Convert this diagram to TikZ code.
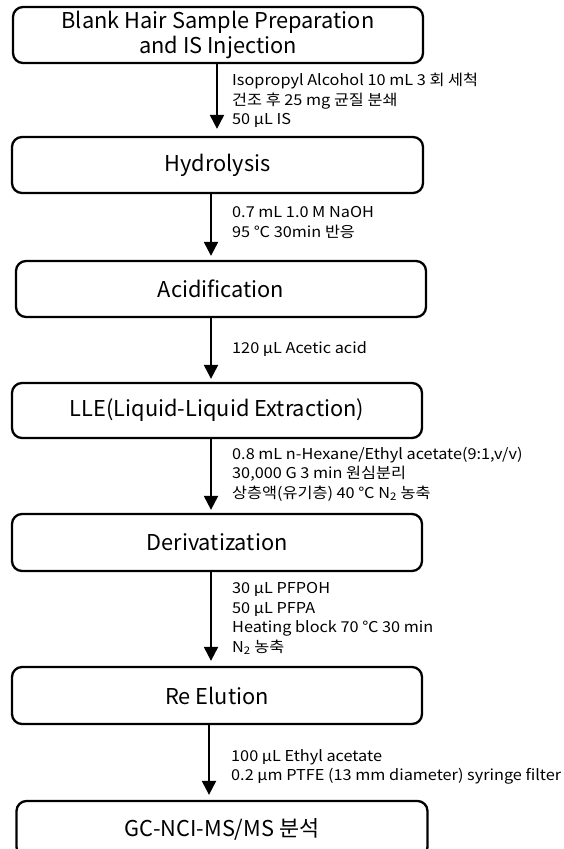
\documentclass[tikz,border=0pt]{standalone}
\usepackage{fontspec}
\setmainfont{Noto Sans CJK KR}
\newfontfamily\notefont{Noto Sans CJK KR}[FakeStretch=1.085]
\usetikzlibrary{arrows.meta}
\begin{document}
\begin{tikzpicture}[x=1pt,y=-1pt,
  stepbox/.style={draw, line width=2.3pt, rounded corners=10pt, minimum height=56pt,
    minimum width=410pt, inner sep=0pt, align=center, font=\fontsize{21.8}{25}\selectfont},
  note/.style={anchor=west, align=left, inner sep=0pt, font=\notefont\fontsize{15}{19.5}\selectfont},
  arr/.style={line width=2.3pt, -{Triangle[width=14pt,length=14pt]}}]
\useasboundingbox (0,0) rectangle (563,849);
\clip (0,0) rectangle (563,849);
\node[stepbox] (b1) at (218,35) {Blank Hair Sample Preparation\\and IS Injection};
\node[stepbox, minimum width=411pt] (b2) at (217.5,165) {Hydrolysis};
\node[stepbox] (b3) at (221,289) {Acidification};
\node[stepbox, minimum height=55pt] (b4) at (217,410.5) {LLE(Liquid-Liquid Extraction)};
\node[stepbox, minimum height=57pt] (b5) at (217,542.5) {Derivatization};
\node[stepbox, minimum height=57pt] (b6) at (217,695.5) {Re Elution};
\node[stepbox, minimum width=411pt] (b7) at (222,829) {GC-NCI-MS/MS 분석};

\draw[arr] ([xshift=-1pt]b1.south) -- ([xshift=-0.5pt,yshift=7pt]b2.north);
\draw[arr] ([xshift=-6.5pt]b2.south) -- ([xshift=-10pt,yshift=4pt]b3.north);
\draw[arr] ([xshift=-10pt]b3.south) -- ([xshift=-6pt,yshift=3pt]b4.north);
\draw[arr] ([xshift=-6pt]b4.south) -- ([xshift=-6pt,yshift=3pt]b5.north);
\draw[arr] ([xshift=-6pt]b5.south) -- ([xshift=-6pt,yshift=5pt]b6.north);
\draw[arr] ([xshift=-8pt]b6.south) -- ([xshift=-13pt,yshift=5pt]b7.north);

\node[note] (n1) at (232,100.5) {Isopropyl Alcohol 10 mL 3 회 세척\\건조 후 25 mg 균질 분쇄\\50 μL IS};
\node[note] (n2) at (232,222.5) {0.7 mL 1.0 M NaOH\\95 ℃ 30min 반응};
\node[note] (n3) at (232,349) {120 μL Acetic acid};
\node[note] (n4) at (232,474) {0.8 mL n-Hexane/Ethyl acetate(9:1,v/v)\\30,000 G 3 min 원심분리\\상층액(유기층) 40 ℃ N\textsubscript{2} 농축};
\node[note] (n5) at (232,618.5) {30 μL PFPOH\\50 μL PFPA\\Heating block 70 ℃ 30 min\\N\textsubscript{2} 농축};
\node[note] (n6) at (231,767) {100 μL Ethyl acetate\\0.2 μm PTFE (13 mm diameter) syringe filter};
\end{tikzpicture}
\end{document}
